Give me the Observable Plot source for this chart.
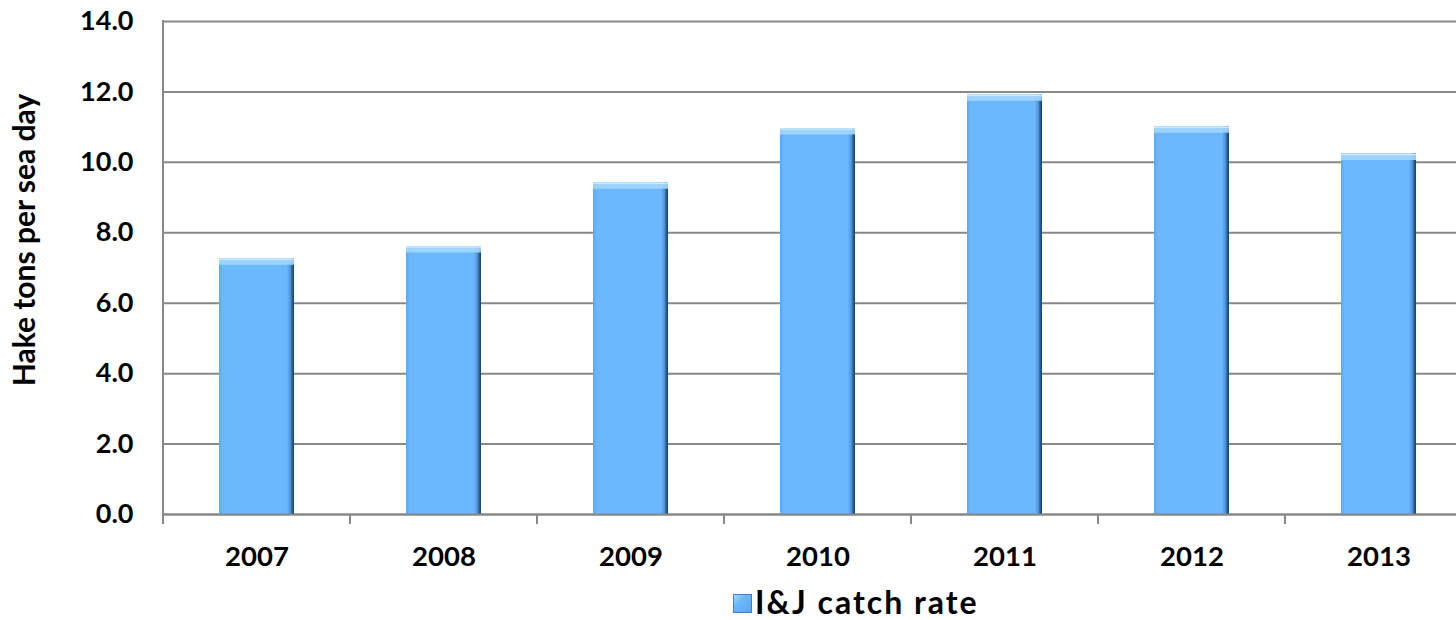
<!DOCTYPE html>
<html>
<head>
<meta charset="utf-8">
<script src="https://cdn.jsdelivr.net/npm/d3@7"></script>
<script src="https://cdn.jsdelivr.net/npm/@observablehq/plot@0.6"></script>
<style>
  html, body { margin: 0; padding: 0; background: #fff; overflow: hidden; }
  body { width: 1456px; height: 620px; position: relative; font-family: Lato, "Open Sans", sans-serif; }
  #legend { position: absolute; left: 733px; top: 586px; height: 32px; display: flex; align-items: center; font-weight: bold; font-size: 32px; color: #000; line-height: 32px; letter-spacing: 2px; white-space: nowrap; }
  #legend .sw { width: 19px; height: 19px; margin-right: 3px; margin-top: 2px; box-sizing: border-box; flex: none;
    background: linear-gradient(135deg, #a9dcff 0%, #6cb9ff 35%, #5aa6ee 100%);
    border: 1px solid #3f7fbf; }
</style>
</head>
<body>
<div id="chart"></div>
<div id="legend"><span class="sw"></span><span id="legendText"></span></div>
<script>
const years = ["2007", "2008", "2009", "2010", "2011", "2012", "2013"];
const catchRate = [7.26, 7.61, 9.42, 10.96, 11.92, 11.01, 10.24];
const yTicks = [0, 2, 4, 6, 8, 10, 12, 14];
const seriesName = "I&J catch rate";
const yTitle = "Hake tons per sea day";

const data = years.map((year, i) => ({year, value: catchRate[i]}));

const axisColor = "#888888";

function defsMark() {
  const defs = d3.create("svg:defs");
  const g = defs.append("linearGradient").attr("id", "barGrad").attr("x1", "0").attr("x2", "1").attr("y1", "0").attr("y2", "0");
  [["0%", "#5aa9f2"], ["5%", "#6bb8ff"], ["90%", "#6bb8ff"], ["95%", "#5297dc"], ["97%", "#2f6aa5"], ["100%", "#173e66"]]
    .forEach(([o, c]) => g.append("stop").attr("offset", o).attr("stop-color", c));
  const f = defs.append("filter").attr("id", "barShadow").attr("x", "-20%").attr("y", "-5%").attr("width", "140%").attr("height", "110%");
  f.append("feDropShadow").attr("dx", 1).attr("dy", 0).attr("stdDeviation", 2.5).attr("flood-color", "#000").attr("flood-opacity", 0.25);
  return defs.node();
}

function frameLines(index, scales, values, dims) {
  const x = scales.x;
  const bw = typeof x.bandwidth === "function" ? x.bandwidth() : x.bandwidth;
  const step = x(years[1]) - x(years[0]);
  const gap = (step - bw) / 2;
  const bottom = dims.height - dims.marginBottom;
  const g = d3.create("svg:g").attr("stroke", axisColor).attr("stroke-width", 2).attr("fill", "none");
  const bounds = years.map(y => x(y) - gap);
  bounds.push(x(years[years.length - 1]) + bw + gap);
  bounds.forEach(b => g.append("line").attr("x1", b).attr("x2", b).attr("y1", bottom).attr("y2", bottom + 10));
  g.append("line").attr("x1", dims.marginLeft).attr("x2", dims.marginLeft)
    .attr("y1", dims.marginTop - 1).attr("y2", bottom);
  return g.node();
}

const chart = Plot.plot({
  width: 1456,
  height: 575,
  marginLeft: 163,
  marginRight: -16,
  marginTop: 21,
  marginBottom: 61,
  style: {fontFamily: "Lato, 'Open Sans', sans-serif", background: "#fff", overflow: "hidden"},
  x: {type: "band", domain: years, paddingInner: 0.6, paddingOuter: 0.3, label: null},
  y: {domain: [0, 14], ticks: yTicks, label: null},
  marks: [
    defsMark,
    Plot.gridY(yTicks, {stroke: axisColor, strokeOpacity: 1, strokeWidth: 2}),
    Plot.barY(data, {x: "year", y: "value", fill: "url(#barGrad)", style: "filter:url(#barShadow)"}),
    Plot.tickY(data, {x: "year", y: "value", stroke: "#a3d7ff", strokeWidth: 6, dy: 3, strokeOpacity: 0.9}),
    Plot.tickY(data, {x: "year", y: "value", stroke: "#cdeaff", strokeWidth: 1.5, dy: 0.5}),
    Plot.ruleY([0], {stroke: axisColor, strokeWidth: 2}),
    frameLines,
    Plot.axisY(yTicks, {tickSize: 0, tickPadding: 30, tickFormat: d => d.toFixed(1), fontSize: 27, fontWeight: "bold", fill: "#000", label: null}),
    Plot.axisX({tickSize: 0, tickPadding: 32, fontSize: 27.5, fontWeight: "bold", fill: "#000", label: null}),
    Plot.text([yTitle], {frameAnchor: "left", dx: -138, dy: -28, rotate: -90, fontSize: 30, fontWeight: "bold", fill: "#000", textAnchor: "middle"})
  ]
});
document.getElementById("chart").append(chart);
document.getElementById("legendText").textContent = seriesName;
</script>
</body>
</html>
